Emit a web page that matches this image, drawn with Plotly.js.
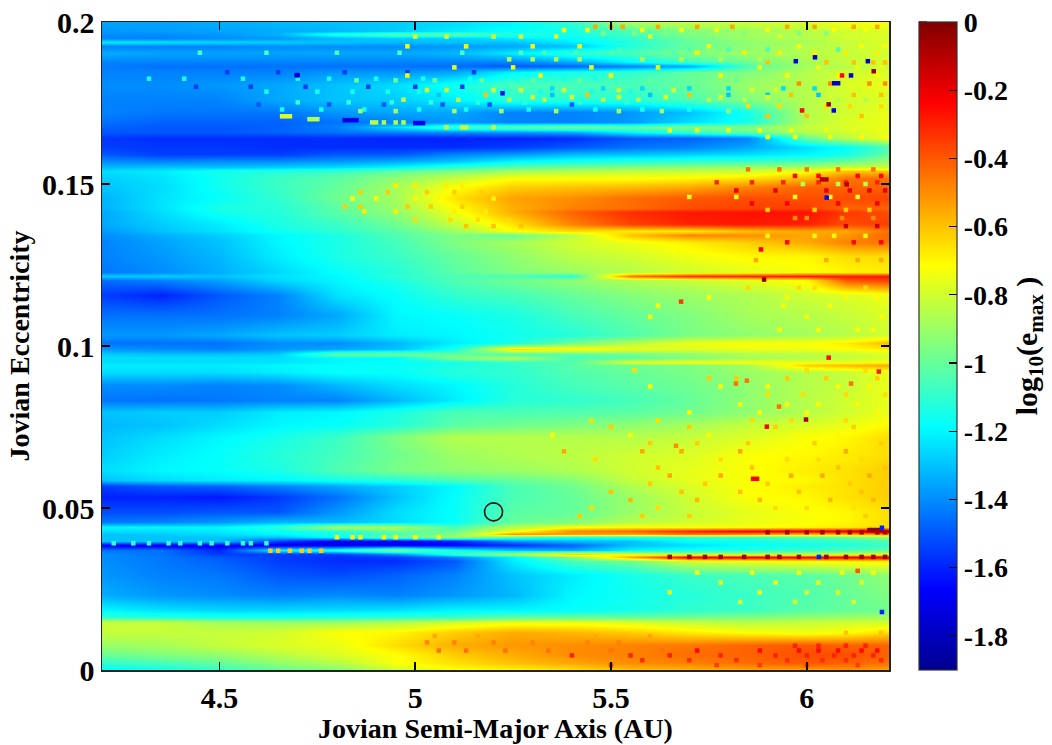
<!DOCTYPE html>
<html><head><meta charset="utf-8">
<script src="https://cdn.plot.ly/plotly-3.0.1.min.js"></script>
<style>html,body{margin:0;padding:0;background:#fff}</style></head>
<body><div id="chart" style="width:1052px;height:745px"></div>
<script>
const semiMajorAxis=[4.2,4.35,4.5,4.65,4.8,4.95,5.1,5.25,5.4,5.55,5.7,5.85,6.0,6.1,6.21];
const eccentricity=[0.2,0.1972,0.1963,0.1951,0.1938,0.1926,0.1904,0.1877,0.1864,0.1846,0.1806,0.1759,0.1722,0.1691,0.1676,0.166,0.1642,0.1614,0.1593,0.1571,0.1552,0.154,0.1519,0.1491,0.1457,0.1426,0.1414,0.1377,0.1355,0.1343,0.1321,0.1278,0.1228,0.1216,0.1204,0.1157,0.1096,0.1034,0.1009,0.0991,0.0975,0.0963,0.0951,0.0941,0.092,0.088,0.0833,0.0796,0.0756,0.0719,0.0664,0.0617,0.0586,0.0568,0.0534,0.0488,0.0457,0.0441,0.0429,0.042,0.041,0.0398,0.0386,0.037,0.0358,0.0349,0.0336,0.0293,0.0231,0.0185,0.0164,0.0148,0.0117,0.0077,0.0046,0.0022,0];
const logEmaxRows=[
[-1.36,-1.36,-1.34,-1.32,-1.3,-1.28,-1.25,-1.2,-1.1,-.85,-.82,-.8,-.78,-.72,-.72],
[-1.38,-1.37,-1.36,-1.34,-1.32,-1.28,-1.22,-1.18,-1.15,-1.05,-.95,-.9,-.85,-.8,-.78],
[-1.4,-1.4,-1.38,-1.33,-1.12,-1.02,-1,-1.12,-1.15,-1.05,-.95,-.88,-.85,-.8,-.78],
[-1.42,-1.42,-1.4,-1.38,-1.32,-1.28,-1.28,-1.22,-1.18,-1.1,-.98,-.9,-.85,-.8,-.78],
[-1.22,-1.24,-1.26,-1.28,-1.3,-1.32,-1.3,-1.3,-1.22,-1.12,-1,-.92,-.88,-.82,-.78],
[-1.42,-1.42,-1.42,-1.4,-1.4,-1.4,-1.38,-1.35,-1.3,-1.12,-1,-.92,-.85,-.82,-.78],
[-1.34,-1.36,-1.36,-1.36,-1.35,-1.35,-1.32,-1.22,-1.1,-1.05,-.95,-.9,-.85,-.82,-.8],
[-1.42,-1.42,-1.42,-1.42,-1.42,-1.42,-1.42,-1.42,-1.35,-1.2,-1.08,-.98,-.88,-.82,-.78],
[-1.43,-1.45,-1.45,-1.45,-1.45,-1.45,-1.46,-1.5,-1.48,-1.42,-1.35,-1.05,-.88,-.85,-.8],
[-1.42,-1.42,-1.42,-1.42,-1.38,-1.38,-1.35,-1.2,-1.15,-1.1,-1,-.95,-.85,-.8,-.78],
[-1.4,-1.4,-1.38,-1.35,-1.3,-1.25,-1.15,-1.05,-1.05,-1.05,-1,-.9,-.85,-.78,-.75],
[-1.42,-1.42,-1.42,-1.35,-1.3,-1.28,-1.22,-1.12,-1.12,-1.12,-1.05,-.95,-.85,-.8,-.78],
[-1.42,-1.44,-1.44,-1.44,-1.38,-1.35,-1.35,-1.42,-1.42,-1.38,-1.3,-1.15,-.85,-.8,-.75],
[-1.45,-1.48,-1.48,-1.48,-1.45,-1.42,-1.38,-1.42,-1.42,-1.38,-1.25,-1.15,-.85,-.78,-.75],
[-1.48,-1.5,-1.5,-1.48,-1.42,-1.25,-1.05,-1,-.95,-1,-.95,-.95,-.82,-.78,-.75],
[-1.5,-1.5,-1.5,-1.48,-1.45,-1.42,-1.4,-1.38,-1.35,-1.2,-1.1,-1,-.85,-.8,-.75],
[-1.56,-1.58,-1.58,-1.58,-1.58,-1.6,-1.6,-1.6,-1.58,-1.5,-1.48,-1.42,-1,-.85,-.75],
[-1.55,-1.56,-1.56,-1.58,-1.58,-1.58,-1.58,-1.55,-1.5,-1.45,-1.42,-1.35,-1.25,-1.18,-1.05],
[-1.5,-1.55,-1.55,-1.55,-1.5,-1.5,-1.42,-1.38,-1.32,-1.3,-1.28,-1.25,-1.2,-1.15,-1],
[-1.4,-1.42,-1.4,-1.4,-1.38,-1.35,-1.3,-1.2,-1.15,-1.12,-1.1,-1.08,-1.05,-1,-.9],
[-1.32,-1.3,-1.3,-1.28,-1.25,-1.2,-1.1,-1.02,-.98,-.95,-.92,-.9,-.88,-.82,-.82],
[-1.25,-1.22,-1.15,-1.12,-1.08,-1,-.95,-.88,-.85,-.82,-.82,-.8,-.72,-.6,-.6],
[-1.28,-1.24,-1.16,-1.08,-1.02,-.92,-.82,-.72,-.72,-.72,-.7,-.66,-.58,-.45,-.45],
[-1.3,-1.25,-1.16,-1.08,-1,-.88,-.72,-.62,-.6,-.58,-.55,-.48,-.42,-.42,-.42],
[-1.33,-1.24,-1.18,-1.1,-.98,-.88,-.66,-.54,-.5,-.44,-.4,-.38,-.38,-.38,-.36],
[-1.33,-1.24,-1.14,-1.12,-1.02,-.9,-.72,-.56,-.48,-.44,-.38,-.36,-.35,-.42,-.42],
[-1.35,-1.25,-1.16,-1.12,-1.02,-.92,-.74,-.56,-.42,-.32,-.28,-.27,-.27,-.34,-.38],
[-1.35,-1.28,-1.22,-1.14,-1.08,-.98,-.82,-.66,-.48,-.36,-.3,-.28,-.3,-.38,-.35],
[-1.38,-1.3,-1.24,-1.16,-1.1,-1.02,-.9,-.72,-.65,-.68,-.68,-.6,-.55,-.55,-.45],
[-1.4,-1.34,-1.28,-1.2,-1.14,-1.04,-.95,-1,-.85,-.6,-.48,-.5,-.55,-.52,-.42],
[-1.42,-1.36,-1.3,-1.2,-1.14,-1.06,-.95,-.88,-.8,-.74,-.68,-.62,-.55,-.48,-.45],
[-1.42,-1.38,-1.32,-1.22,-1.14,-1.08,-1,-.92,-.84,-.8,-.74,-.7,-.7,-.65,-.65],
[-1.44,-1.4,-1.34,-1.26,-1.18,-1.12,-1.02,-.95,-.9,-.85,-.8,-.76,-.72,-.7,-.68],
[-1.28,-1.28,-1.3,-1.24,-1.2,-1.1,-1.05,-1.05,-1.12,-.45,-.32,-.3,-.28,-.28,-.28],
[-1.46,-1.42,-1.36,-1.26,-1.2,-1.14,-1.04,-.98,-.92,-.86,-.82,-.76,-.7,-.4,-.35],
[-1.55,-1.6,-1.5,-1.42,-1.24,-1.18,-1.1,-1.06,-1,-.94,-.9,-.86,-.8,-.78,-.74],
[-1.45,-1.45,-1.45,-1.42,-1.35,-1.2,-1.18,-1.14,-1.06,-1,-.95,-.88,-.85,-.82,-.78],
[-1.38,-1.38,-1.35,-1.3,-1.28,-1.22,-1.2,-1.16,-1.12,-1.04,-.96,-.92,-.88,-.85,-.8],
[-1.45,-1.45,-1.45,-1.4,-1.4,-1.32,-1.22,-1.15,-.98,-.85,-.75,-.72,-.72,-.68,-.58],
[-1.38,-1.4,-1.42,-1.38,-1.35,-1.3,-1.15,-.65,-.7,-.75,-.78,-.75,-.75,-.72,-.68],
[-1.28,-1.3,-1.3,-1.28,-1,-.98,-1,-1.05,-1.02,-.98,-.92,-.86,-.84,-.82,-.78],
[-1.25,-1.25,-1.25,-1.25,-1.2,-1.2,-.95,-.85,-1.05,-1.02,-.95,-.88,-.85,-.82,-.78],
[-1.25,-1.25,-1.25,-1.24,-1.2,-1.18,-1.15,-1.08,-1.04,-.75,-.72,-.72,-.75,-.75,-.72],
[-1.22,-1.22,-1.22,-1.2,-1.18,-1.18,-1.14,-1.1,-1.02,-.98,-.95,-.88,-.62,-.58,-.55],
[-1.25,-1.25,-1.25,-1.22,-1.18,-1.18,-1.12,-1.1,-1.04,-1,-.96,-.9,-.85,-.82,-.75],
[-1.4,-1.4,-1.42,-1.4,-1.32,-1.25,-1.2,-1.12,-1.06,-1.02,-.98,-.92,-.85,-.82,-.75],
[-1.44,-1.45,-1.44,-1.42,-1.42,-1.32,-1.22,-1.12,-1.1,-1.06,-1,-.92,-.85,-.8,-.75],
[-1.3,-1.28,-1.28,-1.22,-1.2,-1.14,-1.05,-1.05,-1.04,-1.02,-.98,-.92,-.85,-.8,-.75],
[-1.32,-1.3,-1.25,-1.2,-1.18,-1.12,-1.02,-.98,-.95,-.92,-.88,-.82,-.78,-.75,-.7],
[-1.3,-1.25,-1.2,-1.15,-1.08,-.95,-.85,-.85,-.85,-.85,-.82,-.78,-.72,-.7,-.65],
[-1.28,-1.22,-1.18,-1.12,-1.06,-.98,-.9,-.86,-.84,-.8,-.78,-.72,-.7,-.68,-.65],
[-1.25,-1.2,-1.18,-1.14,-1.04,-.96,-.92,-.9,-.86,-.8,-.76,-.72,-.68,-.66,-.62],
[-1.3,-1.25,-1.22,-1.2,-1.15,-1.12,-1.05,-1,-.94,-.82,-.76,-.72,-.7,-.66,-.62],
[-1.55,-1.5,-1.48,-1.42,-1.35,-1.28,-1.2,-1.05,-.98,-.86,-.78,-.72,-.68,-.66,-.62],
[-1.6,-1.6,-1.62,-1.56,-1.45,-1.3,-1.18,-1.05,-1,-.9,-.8,-.72,-.7,-.66,-.62],
[-1.52,-1.52,-1.5,-1.5,-1.38,-1.25,-1.18,-1.02,-1,-.9,-.82,-.76,-.72,-.7,-.65],
[-1.44,-1.42,-1.38,-1.32,-1.32,-1.25,-1.18,-1,-.95,-.85,-.8,-.75,-.72,-.7,-.65],
[-1.2,-1.2,-1.2,-1.1,-.85,-.85,-1.05,-.85,-.72,-.7,-.72,-.72,-.7,-.68,-.65],
[-1.25,-1.25,-1.22,-1.18,-1.12,-1,-1,-.75,-.5,-.42,-.3,-.22,-.2,-.18,-.05],
[-1.3,-1.28,-1.25,-1.2,-1.15,-1.05,-.95,-.5,-.52,-.55,-.45,-.5,-.6,-.58,-.5],
[-1.3,-1.3,-1.3,-1.3,-1.18,-1,-.9,-1.05,-1.15,-1.12,-1.1,-1.08,-1.02,-.98,-.9],
[-1.3,-1.3,-1.3,-1.55,-1.7,-1.68,-1.62,-1.4,-1.32,-1.3,-1.18,-1.16,-1.12,-1.1,-1.05],
[-1.68,-1.7,-1.68,-1.7,-1.7,-1.68,-1.65,-1.58,-1.48,-1.3,-1.25,-1.18,-1.15,-1.12,-1.08],
[-1.45,-1.45,-1.6,-1.2,-1.1,-.9,-1.15,-1.3,-1.35,-1.2,-1.15,-1.12,-1.08,-1.05,-1],
[-1.4,-1.45,-1.55,-1.55,-1.55,-1.4,-1.1,-.85,-.62,-.75,-.85,-.85,-.85,-.82,-.78],
[-1.4,-1.44,-1.5,-1.55,-1.58,-1.55,-1.42,-1.2,-.95,-.55,-.2,-.2,-.22,-.2,-.18],
[-1.4,-1.44,-1.48,-1.55,-1.58,-1.58,-1.5,-1.22,-1.06,-.98,-.8,-.75,-.72,-.7,-.68],
[-1.38,-1.42,-1.44,-1.5,-1.52,-1.48,-1.42,-1.3,-1.22,-1.15,-1.08,-1.05,-1.02,-.98,-.92],
[-1.34,-1.38,-1.4,-1.42,-1.4,-1.42,-1.38,-1.32,-1.2,-1.16,-1.12,-1.08,-1.04,-1,-.95],
[-1.2,-1.24,-1.26,-1.26,-1.25,-1.24,-1.2,-1.2,-1.18,-1.15,-1.1,-1.08,-1.02,-1,-.98],
[-1.1,-1.12,-1.14,-1.14,-1.12,-1.1,-1.08,-1.02,-1,-1,-.98,-.95,-.92,-.9,-.88],
[-.82,-.82,-.88,-.9,-.9,-.86,-.8,-.75,-.75,-.78,-.82,-.85,-.82,-.8,-.8],
[-.82,-.82,-.82,-.8,-.72,-.7,-.62,-.56,-.58,-.62,-.68,-.72,-.75,-.72,-.65],
[-.9,-.88,-.82,-.78,-.75,-.65,-.56,-.52,-.5,-.48,-.46,-.42,-.4,-.42,-.42],
[-1,-.95,-.92,-.85,-.78,-.72,-.62,-.56,-.5,-.48,-.44,-.42,-.38,-.38,-.42],
[-1.1,-1.06,-1,-.92,-.85,-.72,-.66,-.6,-.55,-.5,-.48,-.44,-.4,-.42,-.45],
[-1.2,-1.16,-1.1,-1,-.95,-.82,-.72,-.7,-.66,-.6,-.58,-.55,-.55,-.52,-.55]
];
// isolated cells: [eccentricity, log10(emax), [semi-major axes]]
const speckleGroups=[
[.1985,-.55,[5.46,5.5,5.53,5.62,5.72,5.81,5.95,6.02,6.12,6.18]],
[.1975,-.72,[5.38,5.44,5.58,5.68,5.77,5.9,6.07,6.15]],
[.1965,-.95,[5.48,5.56,5.64,5.74,5.84,5.98,6.05]],
[.1955,-.78,[5,5.08,5.2,5.27,5.36,5.6,5.93,6.1,6.17]],
[.1925,-.72,[4.98,5.13,5.3,5.42,5.75,5.98,6.14,6.2]],
[.1915,-1.05,[5.52,5.62,5.7,5.8,5.9,6.08]],
[.1905,-1.05,[4.45,4.62,4.8,4.96,5.12,5.27,5.33,5.41,5.5,5.66]],
[.1905,-.68,[5.72,5.84,5.93,6.02,6.1,6.18]],
[.1885,-.85,[5.24,5.3,5.36,5.42,5.58,5.68,5.78,5.88,6.01]],
[.1875,-.6,[5.9,6.05,6.12,6.17,6.2]],
[.186,-.75,[5.1,5.25,5.45,5.62,5.88,6.03,6.13,6.19]],
[.1845,-1.55,[4.52,4.65,4.82,4.98,5.15]],
[.1835,-.72,[4.98,5.32,5.5,5.78,5.95,6.08,6.18]],
[.1825,-1.15,[4.32,4.41,4.56,4.7,4.78,4.9,5.02,5.14,5.26,5.38,5.46]],
[.182,-1,[4.85,4.95,5.05,5.17,5.3,5.42,5.6,5.72,5.82]],
[.181,-.5,[5.98,6.06,6.16,6.2]],
[.18,-1.55,[4.44,4.58,4.72,4.88,5,5.12]],
[.1795,-1.25,[5.35,5.48,5.58,5.7,5.8,5.94,6.02]],
[.179,-.8,[5.03,5.08,5.2,5.27,5.38,5.52,5.66,5.86,5.92,6.1]],
[.1785,-1.15,[4.62,4.75,4.84,4.93,5.01,5.14,5.23,5.32,5.45,5.55]],
[.1775,-1.3,[5.06,5.35,5.6,5.8,5.9,6.03]],
[.1775,-.6,[5.18,5.44,5.7,5.96,6.12,6.19]],
[.1768,-.78,[5.3,5.4,5.52,5.64,5.78,5.9,6.06,6.14]],
[.176,-.85,[4.97,5.11,5.24,5.33,5.48,5.57,5.75,5.84,6,6.08,6.15]],
[.1752,-1.1,[4.7,4.83,4.94,5.04,5.16,5.28,5.42,5.54,5.65]],
[.1745,-1.5,[4.6,4.78,4.92,5.07,5.19,5.4]],
[.174,-.65,[5.85,5.93,6.05,6.11,6.19]],
[.173,-1.15,[4.66,4.76,4.87,5.01,5.13,5.29,5.46,5.58,5.7]],
[.1725,-.88,[4.86,4.95,5.1,5.22,5.36,5.52,5.63,5.8,5.98]],
[.171,-.6,[5.9,6,6.14]],
[.1709,-.78,[4.66,4.67,4.68]],
[.17,-.85,[4.73,4.74,4.75]],
[.1697,-1.72,[4.82,4.83,4.84,4.85]],
[.169,-.85,[4.89,4.9,4.92,4.95,4.97]],
[.1688,-1.7,[5,5.01,5.02]],
[.1675,-.8,[5.08,5.12,5.13,5.2]],
[.1665,-.75,[5.65,5.72,5.8,5.88,5.96,6.05,6.12,6.18]],
[.1645,-.7,[5.9,5.97,6.06,6.14,6.2]],
[.1545,-.45,[5.85,5.93,6,6.08,6.17]],
[.1525,-.25,[5.97,6.03,6.13,6.19]],
[.1505,-.3,[5.77,5.86,5.94,6.03,6.1,6.18]],
[.15,-.85,[5.99,6.08,6.15]],
[.148,-.2,[5.82,5.92,6.05,6.11,6.16,6.2]],
[.146,-.75,[5.7,5.82,5.97,6.06,6.13]],
[.144,-.22,[5.86,5.95,6.08,6.18]],
[.142,-.62,[5.9,6.02,6.1,6.16]],
[.1395,-.5,[5.97,6,6.09,6.17]],
[.137,-.15,[6.1,6.18]],
[.134,-.7,[5.9,6.02,6.07,6.15]],
[.132,-.25,[5.95,6.12,6.19]],
[.1495,-.68,[4.95,5,5.08,5.12]],
[.1475,-.62,[4.86,4.93,5.03,5.1,5.17]],
[.1455,-.7,[4.84,4.9,5,5.06,5.2]],
[.143,-.62,[4.82,4.86,4.98,5.04,5.12]],
[.1415,-.68,[4.87,4.95,5.1,5.18]],
[.139,-.65,[5,5.09,5.16,5.24]],
[.137,-.6,[5.13,5.2,5.27]],
[.1265,-.55,[5.87,6.05,6.13,6.19]],
[.118,-.65,[5.85,5.98,6.02,6.15]],
[.115,-.7,[5.75,5.95,6.1,6.18]],
[.1125,-.72,[5.62,5.94,6.06]],
[.109,-.72,[5.6,6,6.19]],
[.105,-.72,[5.93,6.03,6.13,6.17]],
[.0925,-.65,[5.56,6,6.15]],
[.09,-.62,[5.75,5.82,5.95,6.05,6.18]],
[.0875,-.7,[5.6,5.78,5.9,6.08,6.16]],
[.085,-.65,[5.9,5.99,6.1,6.2]],
[.082,-.7,[5.83,5.95,6.03,6.13]],
[.0795,-.7,[5.7,5.88,6,6.18]],
[.077,-.65,[5.45,5.62,5.86,5.96,6.1]],
[.075,-.62,[5.5,5.7,5.92,6.12]],
[.0725,-.7,[5.35,5.55,5.75,5.98,6.08]],
[.07,-.62,[5.6,5.72,5.85,6.02,6.19]],
[.0675,-.55,[5.38,5.58,5.68,5.83,6.1]],
[.065,-.65,[5.46,5.78,5.95,6.03,6.14]],
[.0625,-.6,[5.62,5.86,6.08,6.2]],
[.06,-.55,[5.65,5.78,5.96,6.04,6.16]],
[.0575,-.62,[5.6,5.74,5.9,6.11,6.19]],
[.055,-.6,[5.5,5.68,5.83,5.98,6.14]],
[.0525,-.58,[5.55,5.72,5.88,6.06,6.17]],
[.05,-.65,[5.45,5.62,5.92,6,6.12]],
[.0475,-.62,[5.42,5.58,5.7,6.15]],
[.0432,-.03,[6.16,6.17,6.18,6.19]],
[.0425,-.08,[5.9,5.95,6,6.04,6.08,6.11,6.14,6.18,6.2]],
[.0391,-1.1,[4.23,4.28,4.32,4.37,4.4,4.45,4.48,4.52,4.56,4.58,4.62]],
[.041,-.72,[4.8,4.84,4.86,4.92,4.95,5,5.06]],
[.0368,-.62,[4.63,4.65,4.68,4.71,4.73,4.76]],
[.0349,-.08,[5.65,5.7,5.74,5.78,5.84,5.9,5.93,5.98,6.05,6.1,6.14,6.17,6.2]],
[.03,-.72,[5.72,5.86,5.98,6.09,6.17]],
[.027,-.75,[5.78,5.92,6.03,6.14]],
[.024,-.75,[5.65,5.88,6,6.08]],
[.021,-.8,[5.83,5.97,6.12]],
[.0115,-.6,[6.1,6.19]],
[.0105,-.55,[5.05,5.16,5.28,5.35,5.46,5.6]],
[.0085,-.48,[5.03,5.1,5.2,5.3,5.44,5.52]],
[.0075,-.3,[5.97,6.03,6.1,6.15]],
[.006,-.25,[5.72,5.88,5.98,6.03,6.08,6.14,6.18]],
[.006,-.45,[5.06,5.13,5.23,5.34,5.5,5.63]],
[.0045,-.3,[5.4,5.55,5.65,5.78,5.92,6,6.07,6.12,6.17]],
[.003,-.32,[5.58,5.7,5.82,5.95,6.04,6.1,6.19]],
[.0015,-.35,[5.5,5.77,5.88,6,6.13]],
[.1879,-1.75,[5.972,6.156]],[.1891,-1.75,[6.021]],[.1848,-.05,[6.171]],
[.1835,-1.75,[6.113]],[.1835,-.25,[6.09]],[.1811,-1.78,[6.07,6.08]],
[.1746,-.05,[6.056]],[.1727,-1.7,[6.069]],[.1727,-.25,[5.988]],[.1458,-1.65,[6.051]],
[.178,-1.65,[5.223]],[.1836,-1.75,[4.697,4.7]],[.1499,-.1,[6.102]],[.1514,-.1,[6.039,6.05]],
[.1298,-.22,[5.883]],[.1205,-.03,[5.891]],[.1137,-.35,[5.679]],[.0964,-.25,[6.056]],
[.0921,-.28,[6.184]],[.0893,-.45,[5.847]],[.0884,-.45,[5.819,6.113]],[.0813,-.45,[5.929]],
[.0773,-.08,[5.998]],[.0751,-.22,[5.898]],[.059,-.22,[5.863,5.873]],[.0179,-1.6,[6.192]],
[.0349,-1.6,[6.031]],[.0439,-1.6,[6.192]],[.0306,-.4,[6.13]],[.0692,-.5,[5.666]]
];
const tickA=[4.5,5,5.5,6], tickE=[0,0.05,0.1,0.15,0.2];
const tickE_text=['0','0.05','0.1','0.15','0.2'];
const cbTicks=[0,-.2,-.4,-.6,-.8,-1,-1.2,-1.4,-1.6,-1.8];
const jupiterA=[5.2], jupiterE=[0.0488];
const zMin=-1.9, zMax=0;

const speckleA=[],speckleE=[],speckleZ=[];
speckleGroups.forEach(g=>g[2].forEach(a=>{speckleA.push(a);speckleE.push(g[0]);speckleZ.push(g[1]);}));
const ser='"Liberation Serif","Times New Roman",serif';
const ascE=eccentricity.slice().reverse(), ascZ=logEmaxRows.slice().reverse();
const jet=[[0,'rgb(0,0,143)'],[0.125,'rgb(0,0,255)'],[0.375,'rgb(0,255,255)'],[0.625,'rgb(255,255,0)'],[0.875,'rgb(255,0,0)'],[1,'rgb(128,0,0)']];
const barLeft=1.038;
const data=[
 {type:'heatmap',x:semiMajorAxis,y:ascE,z:ascZ,zsmooth:'best',coloraxis:'coloraxis'},
 {type:'scatter',mode:'markers',x:speckleA,y:speckleE,marker:{symbol:'square',size:4.5,line:{width:0},color:speckleZ,coloraxis:'coloraxis'}},
 {type:'scatter',mode:'markers',x:jupiterA,y:jupiterE,marker:{symbol:'circle-open',size:18,color:'#111',line:{width:1.6,color:'#111'}}}
];
const layout={
 width:1052,height:745,showlegend:false,paper_bgcolor:'#fff',plot_bgcolor:'#fff',
 margin:{l:102,r:163,t:22,b:75,pad:0,autoexpand:false},
 font:{family:ser,color:'#000'},
 xaxis:{range:[4.2,6.21],tickvals:tickA,ticktext:tickA.map(String),ticks:'inside',ticklen:8,tickwidth:1.5,tickcolor:'#000',
  mirror:'ticks',showline:true,linecolor:'#222',linewidth:1.5,showgrid:false,zeroline:false,
  tickfont:{family:ser,size:30,weight:'bold',color:'#000'},
  title:{text:'Jovian Semi-Major Axis (AU)',standoff:2,font:{family:ser,size:28,weight:'bold',color:'#000'}}},
 yaxis:{range:[0,0.2],tickvals:tickE,ticktext:tickE_text,ticks:'inside',ticklen:8,tickwidth:1.5,tickcolor:'#000',
  mirror:'ticks',showline:true,linecolor:'#222',linewidth:1.5,showgrid:false,zeroline:false,
  tickfont:{family:ser,size:30,weight:'bold',color:'#000'},
  title:{text:'Jovian Eccentricity',standoff:4,font:{family:ser,size:28,weight:'bold',color:'#000'}}},
 coloraxis:{cmin:zMin,cmax:zMax,colorscale:jet,colorbar:{
   x:barLeft,xanchor:'left',xpad:0,ypad:0,y:0,yanchor:'bottom',len:1,lenmode:'fraction',thickness:38,thicknessmode:'pixels',
   outlinewidth:1.2,outlinecolor:'#333',tickvals:cbTicks,ticktext:cbTicks.map(String),ticks:'inside',ticklen:8,tickwidth:1.2,tickcolor:'#000',
   tickfont:{family:ser,size:28,weight:'bold',color:'#000'},
   title:{text:'log<sub>10</sub>(e<sub>max</sub> )',side:'right',font:{family:ser,size:30,weight:'bold',color:'#000'}}}},
 shapes:cbTicks.map(t=>({type:'line',xref:'paper',yref:'paper',x0:barLeft,x1:barLeft+0.0102,y0:(t-zMin)/(zMax-zMin),y1:(t-zMin)/(zMax-zMin),line:{color:'#000',width:1.2}}))
};
Plotly.newPlot('chart',data,layout,{displayModeBar:false,staticPlot:true});
</script></body></html>
